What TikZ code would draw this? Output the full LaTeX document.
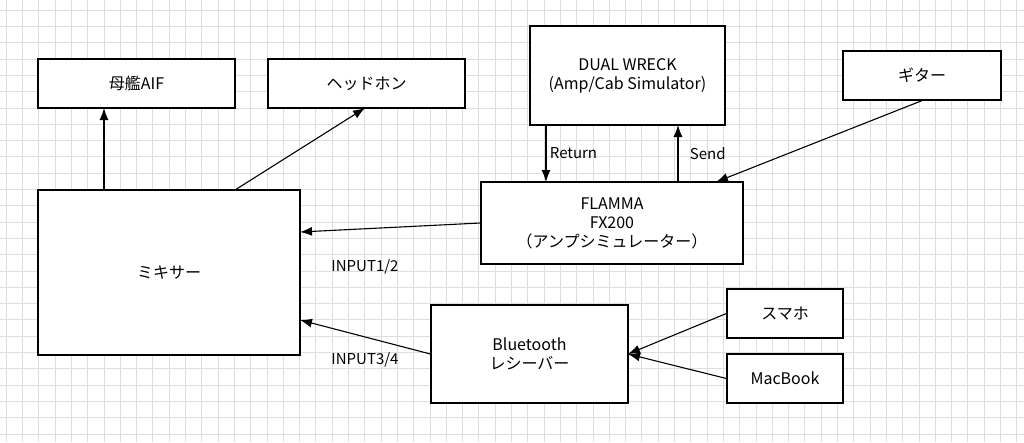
\documentclass[tikz,border=0pt]{standalone}
\usepackage{fontspec}
\setmainfont{Noto Sans CJK JP}
\usetikzlibrary{arrows.meta}
\begin{document}
\begin{tikzpicture}[x=1pt,y=-1pt,
 box/.style={draw,line width=1.2pt,fill=white,inner sep=0pt,font=\fontsize{16}{19}\selectfont,align=center},
 arr/.style={-{Latex[length=12pt,width=9pt]},line width=1.1pt},
 lbl/.style={font=\fontsize{15}{18}\selectfont}]
\fill[white](0,0) rectangle (1024,442);
\useasboundingbox (0,0) rectangle (1024,442);
\foreach \i in {0,...,63} {\draw[black!13,line width=0.6pt] ({6+16.3*\i},0) -- ({6+16.3*\i},442);}
\foreach \i in {0,...,27} {\draw[black!13,line width=0.6pt] (0,{10+16.3*\i}) -- (1024,{10+16.3*\i});}
\newcommand\bx[6]{\node[box,minimum width=#4-#2,minimum height=#5-#3] (#1) at ({(#2+#4)/2},{(#3+#5)/2}) {#6};}
\bx{aif}{38}{59}{235}{108}{母艦AIF}
\bx{hp}{268}{59}{465}{108}{ヘッドホン}
\bx{dw}{530}{26}{725}{125}{DUAL WRECK\\(Amp/Cab Simulator)}
\bx{gt}{843}{51}{1001}{100}{ギター}
\bx{mx}{38}{190}{300}{355}{ミキサー}
\bx{fl}{481}{182}{743}{264}{FLAMMA\\FX200\\（アンプシミュレーター）}
\bx{bt}{431}{305}{628}{403}{Bluetooth\\レシーバー}
\bx{sm}{727}{289}{843}{338}{スマホ}
\bx{mb}{727}{354}{843}{403}{MacBook}
\coordinate (a1) at (104,190);
\draw[arr] (a1) -- (104,108);
\draw[arr] (235,190) -- (365,108);
\draw[arr] (546,125) -- (546,182) node[midway,right,lbl]{Return};
\draw[arr] (678,182) -- (678,125) node[midway,right,xshift=8pt,lbl]{Send};
\draw[arr] (gt.south) -- (716,182);
\draw[arr] (fl.west) -- (300,232);
\draw[arr] (bt.west) -- (300,320);
\node[lbl] (i12) at (365,267) {INPUT1/2};
\node[lbl] (i34) at (365,360) {INPUT3/4};
\draw[arr] (sm.west) -- (628,354);
\draw[arr] (mb.west) -- (628,354);
\end{tikzpicture}
\end{document}
